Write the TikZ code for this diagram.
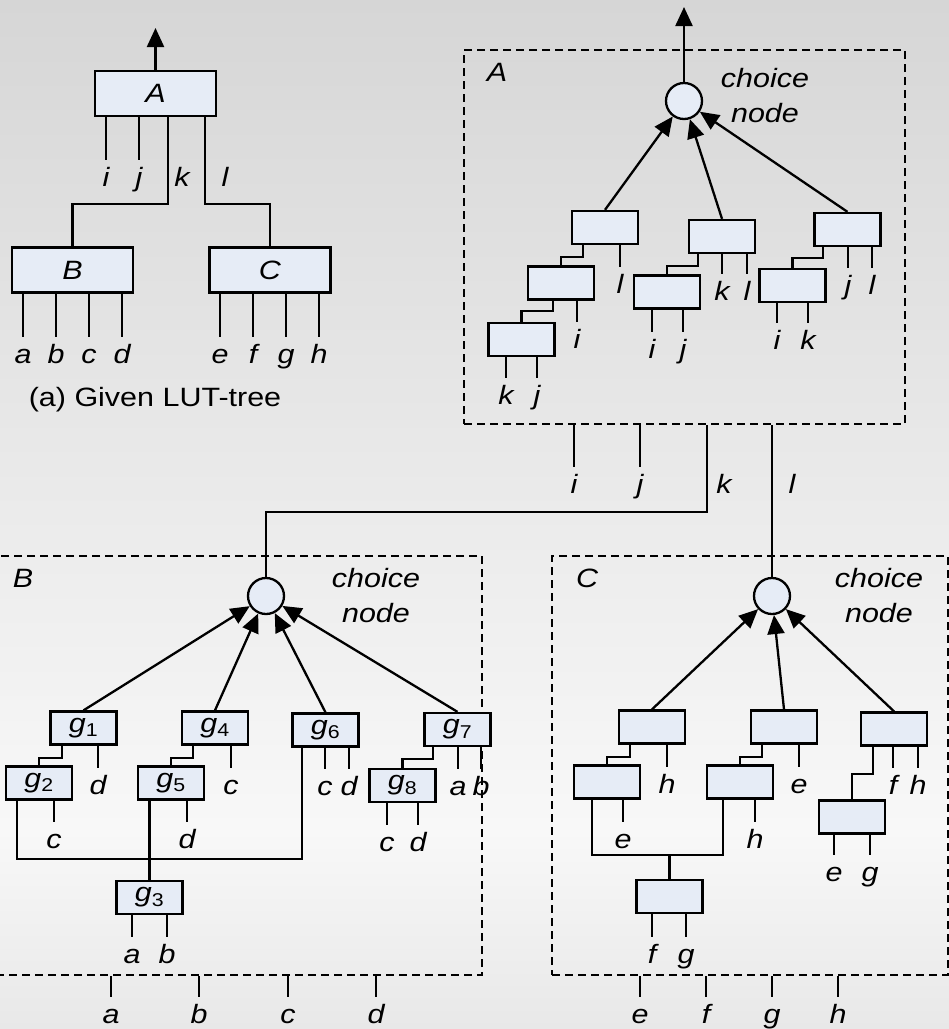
\documentclass[tikz,border=0pt]{standalone}
\usepackage{fontspec}
\setmainfont{Liberation Sans}[FakeStretch=1.15]
\usetikzlibrary{arrows.meta}

\definecolor{boxfill}{RGB}{230,236,246}
\definecolor{bgtop}{RGB}{214,214,214}
\definecolor{bgmid}{RGB}{248,248,248}
\definecolor{bgbot}{RGB}{232,232,232}

\newcommand{\lblfont}{\fontsize{26.5}{35}\selectfont\itshape}
\newcommand{\capfont}{\fontsize{26.5}{35}\selectfont}

\begin{document}
\begin{tikzpicture}[x=1pt, y=-1pt, line width=2.3pt,
  lut/.style={draw, fill=boxfill, minimum width=66pt, minimum height=33pt, inner sep=0pt, font=\lblfont},
  lutbig/.style={lut, minimum width=121pt, minimum height=45pt},
  cnode/.style={circle, draw, fill=boxfill, minimum size=36pt, inner sep=0pt},
  region/.style={draw, dash pattern=on 8pt off 5pt, line width=2pt, inner sep=0pt},
  lbl/.style={font=\lblfont, anchor=north, inner sep=0pt, outer sep=7pt, text height=19pt, text depth=5pt},
  tag/.style={font=\lblfont, inner sep=0pt},
  note/.style={font=\lblfont, align=center, inner sep=0pt},
  capn/.style={font=\capfont, inner sep=0pt},
  arr/.style={-{Triangle[length=19pt, width=17pt]}}]
\useasboundingbox (0,0) rectangle (949,1029);
\shade[top color=bgtop, bottom color=bgmid] (0,0) rectangle (949,830);
\shade[top color=bgmid, bottom color=bgbot] (0,830) rectangle (949,1029);

% (a) given LUT-tree
\node[lutbig] (A) at (155.5,93.5) {A};
\node[lutbig] (B) at (72.5,270) {B};
\node[lutbig] (C) at (270,270) {C};
\coordinate (outA) at (155.5,28);
\draw[arr] (A.north) -- (outA);
\foreach \x/\t in {106/i,139/j} {
  \node[lbl] (A\t) at (\x,160) {\t};
  \draw (A.south -| A\t) -- (A\t.north);
}
\node[lbl] (Ak) at (182,160) {k};
\node[lbl] (Al) at (225,160) {l};
\draw ([xshift=12.5pt]A.south) -- ++(0,87) -| (B.north);
\draw ([xshift=49.5pt]A.south) -- ++(0,87) -| (C.north);
\foreach \x/\t in {23/a,56/b,89/c,122/d} {
  \node[lbl] (B\t) at (\x,337) {\t};
  \draw (B.south -| B\t) -- (B\t.north);
}
\foreach \x/\t in {220/e,253/f,286/g,319/h} {
  \node[lbl] (C\t) at (\x,337) {\t};
  \draw (C.south -| C\t) -- (C\t.north);
}
\node[capn] (capA) at (155,400) {(a) Given LUT-tree};

% choices for A
\node[region, minimum width=441pt, minimum height=374pt] (dA) at (684.5,237) {};
\node[tag] (tagA) at (497,72) {A};
\node[cnode] (chA) at (684,101) {};
\node[note] (noteA) at (765,95.5) {choice\\node};
\coordinate (outR) at (684,7);
\draw[arr] (chA) -- (outR);
\node[lut] (a1) at (605,227.5) {};
\node[lut] (a2) at (561,283) {};
\node[lut] (a3) at (521.5,339.5) {};
\node[lut] (b1) at (722,236.5) {};
\node[lut] (b2) at (667,292) {};
\node[lut] (c1) at (847.5,229.5) {};
\node[lut] (c2) at (792.5,285.5) {};
\foreach \n in {a1,b1,c1} \draw[arr] (\n.north) -- (chA);
\draw ([xshift=-22pt]a1.south) -- ++(0,12) -| (a2.north);
\draw ([xshift=-8pt]a2.south) -- ++(0,10) -| (a3.north);
\draw ([xshift=-24pt]b1.south) -- ++(0,12) -| (b2.north);
\draw ([xshift=-24.5pt]c1.south) -- ++(0,11) -| (c2.north);
\foreach \s/\x/\y/\t/\n in {a1/620/267/l/wa1, a2/577/322/i/wa2, a3/506/378/k/wa3, a3/537/378/j/wa4,
    b1/722/274/k/wb1, b1/747/274/l/wb2, b2/652/332/i/wb3, b2/683/332/j/wb4,
    c1/848/268/j/wc1, c1/872/268/l/wc2, c2/777/323/i/wc3, c2/808/323/k/wc4} {
  \node[lbl] (\n) at (\x,\y) {\t};
  \draw (\s.south -| \n) -- (\n.north);
}
\foreach \x/\t in {574/i,640/j} {
  \node[lbl] (x\t) at (\x,467) {\t};
  \draw (dA.south -| x\t) -- (x\t.north);
}
\node[lbl] (xk) at (724,467) {k};
\node[lbl] (xl) at (792,467) {l};

% choices for B
\node[region, minimum width=486pt, minimum height=419pt] (dB) at (239,765.5) {};
\node[tag] (tagB) at (23,578) {B};
\node[cnode] (chB) at (266,596) {};
\node[note] (noteB) at (376,595.5) {choice\\node};
\node[lut] (g1) at (83.5,728) {g\textsubscript{\upshape 1}};
\node[lut] (g2) at (39,783) {g\textsubscript{\upshape 2}};
\node[lut] (g4) at (215,728) {g\textsubscript{\upshape 4}};
\node[lut] (g5) at (171,783) {g\textsubscript{\upshape 5}};
\node[lut] (g6) at (325.5,730) {g\textsubscript{\upshape 6}};
\node[lut] (g7) at (457.5,729.5) {g\textsubscript{\upshape 7}};
\node[lut] (g8) at (402.5,785.5) {g\textsubscript{\upshape 8}};
\node[lut] (g3) at (149.5,897.5) {g\textsubscript{\upshape 3}};
\foreach \n in {g1,g4,g6,g7} \draw[arr] (\n.north) -- (chB);
\draw ([xshift=-21.5pt]g1.south) -- ++(0,12) -| (g2.north);
\draw ([xshift=-22pt]g4.south) -- ++(0,12) -| (g5.north);
\draw ([xshift=-24.5pt]g7.south) -- ++(0,12) -| (g8.north);
\coordinate (jB) at (149.5,859);
\draw ([xshift=-22pt]g2.south) |- (jB) -| ([xshift=-23.5pt]g6.south);
\draw (g5.south -| g3) -- (g3.north);
\foreach \s/\x/\y/\t/\n in {g1/98/768/d/wg1, g2/54/822/c/wg2, g4/231/768/c/wg3, g5/187/822/d/wg4,
    g6/325/769/c/wg5, g6/349/769/d/wg6, g7/458/769/a/wg7, g7/481/769/b/wg8,
    g8/387/825/c/wg9, g8/418/825/d/wg10, g3/132/937/a/wg11, g3/167/937/b/wg12} {
  \node[lbl] (\n) at (\x,\y) {\t};
  \draw (\s.south -| \n) -- (\n.north);
}
\foreach \x/\t in {111/a,199/b,288/c,376/d} {
  \node[lbl] (y\t) at (\x,997) {\t};
  \draw (dB.south -| y\t) -- (y\t.north);
}

% choices for C
\node[region, minimum width=396pt, minimum height=419pt] (dC) at (750,765.5) {};
\node[tag] (tagC) at (587,578) {C};
\node[cnode] (chC) at (772,596) {};
\node[note] (noteC) at (879,595.5) {choice\\node};
\node[lut] (h1) at (652,727) {};
\node[lut] (h2) at (607,782) {};
\node[lut] (h3) at (784,727) {};
\node[lut] (h4) at (740,782) {};
\node[lut] (h5) at (669.5,896.5) {};
\node[lut] (h6) at (894,729) {};
\node[lut] (h7) at (852,817) {};
\foreach \n in {h1,h3,h6} \draw[arr] (\n.north) -- (chC);
\draw ([xshift=-22pt]h1.south) -- ++(0,12) -| (h2.north);
\draw ([xshift=-22pt]h3.south) -- ++(0,12) -| (h4.north);
\draw ([xshift=-21pt]h6.south) -- ++(0,27) -| (h7.north);
\coordinate (jC) at (669.5,855);
\draw ([xshift=-15pt]h2.south) |- (jC) -| ([xshift=-17pt]h4.south);
\draw (jC) -- (h5.north);
\foreach \s/\x/\y/\t/\n in {h1/667/767/h/wh1, h2/623/822/e/wh2, h3/799/767/e/wh3, h4/755/822/h/wh4,
    h5/652/937/f/wh5, h5/686/937/g/wh6, h6/893/768/f/wh7, h6/918/768/h/wh8,
    h7/834/855/e/wh9, h7/870/855/g/wh10} {
  \node[lbl] (\n) at (\x,\y) {\t};
  \draw (\s.south -| \n) -- (\n.north);
}
\foreach \x/\t in {640/e,706/f,772/g,838/h} {
  \node[lbl] (z\t) at (\x,997) {\t};
  \draw (dC.south -| z\t) -- (z\t.north);
}

% links between the choice structures
\coordinate (kbend) at (707,512);
\draw (dA.south -| kbend) -- (kbend) -| (chB.north);
\draw (dA.south -| chC) -- (chC.north);
\end{tikzpicture}
\end{document}
